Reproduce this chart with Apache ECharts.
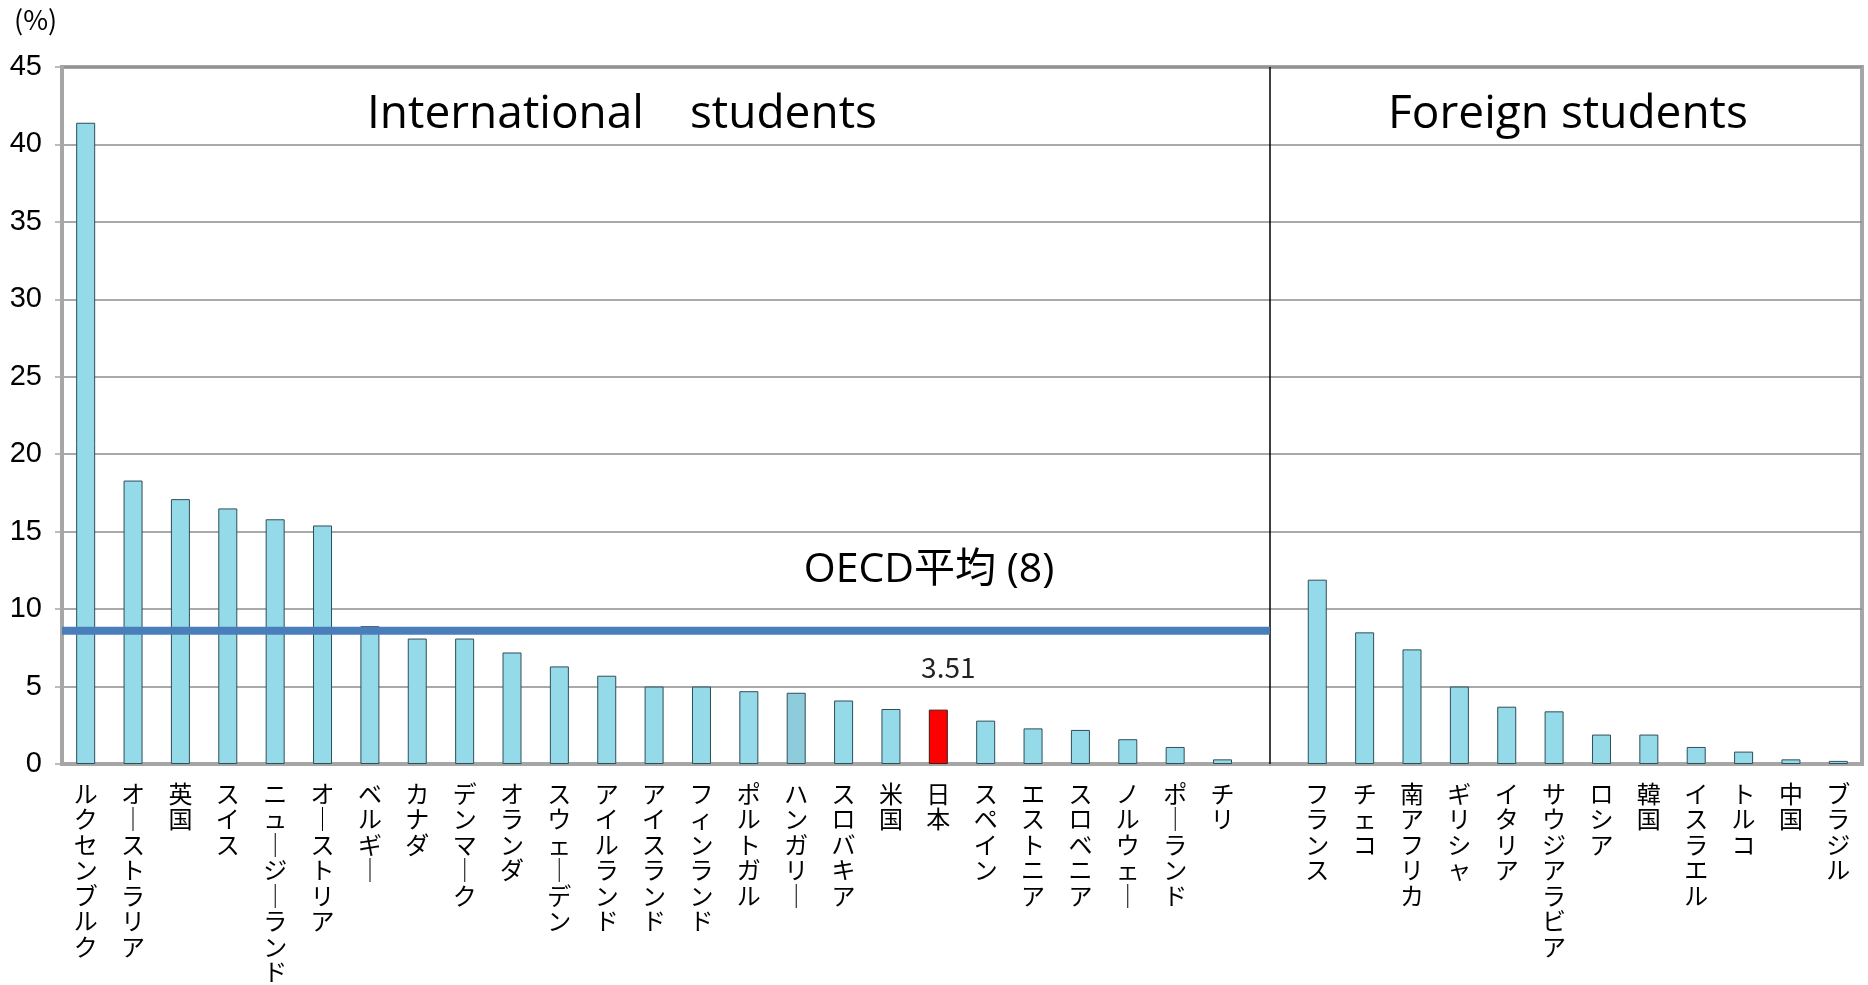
<!DOCTYPE html>
<html>
<head>
<meta charset="utf-8">
<script src="https://cdn.jsdelivr.net/npm/echarts@6/dist/echarts.min.js"></script>
<style>
  html, body { margin: 0; padding: 0; background: #fff; }
  #chart { width: 1868px; height: 985px; }
</style>
</head>
<body>
<div id="chart"></div>
<script>
// 留学生比率 (%) — International students / Foreign students
var intlNames = ['ルクセンブルク', 'オーストラリア', '英国', 'スイス', 'ニュージーランド', 'オーストリア',
  'ベルギー', 'カナダ', 'デンマーク', 'オランダ', 'スウェーデン', 'アイルランド', 'アイスランド',
  'フィンランド', 'ポルトガル', 'ハンガリー', 'スロバキア', '米国', '日本', 'スペイン', 'エストニア',
  'スロベニア', 'ノルウェー', 'ポーランド', 'チリ'];
var intlValues = [41.4, 18.3, 17.1, 16.5, 15.8, 15.4, 8.9, 8.1, 8.1, 7.2, 6.3, 5.7, 5.0,
  5.0, 4.7, 4.6, 4.1, 3.55, 3.51, 2.8, 2.3, 2.2, 1.6, 1.1, 0.3];

var foreignNames = ['フランス', 'チェコ', '南アフリカ', 'ギリシャ', 'イタリア', 'サウジアラビア',
  'ロシア', '韓国', 'イスラエル', 'トルコ', '中国', 'ブラジル'];
var foreignValues = [11.9, 8.5, 7.4, 5.0, 3.7, 3.4, 1.9, 1.9, 1.1, 0.8, 0.3, 0.2];

var oecdAvg = 8.6;   // 太線の位置 (ラベルは 8)
var yTicks = [0, 45, 5];  // min, max, interval

// 空のカテゴリを1つ挟んで2グループに分ける
var categories = intlNames.concat([''], foreignNames);
var values = intlValues.concat([null], foreignValues);
var splitPos = intlNames.length + 0.5;

var barData = categories.map(function (name, i) {
  var v = values[i];
  if (name === '日本') {
    return { value: v, itemStyle: { color: '#FF0000', borderColor: '#3a1a1a' },
      label: { show: true, position: 'top', distance: 28, offset: [10, 0], formatter: '{c}',
        fontSize: 28, color: '#222', fontFamily: 'Noto Sans CJK JP' } };
  }
  if (name === 'ハンガリー') {
    return { value: v, itemStyle: { color: '#8ECBDB' } };
  }
  return v;
});

var chart = echarts.init(document.getElementById('chart'));
var option = {
  animation: false,
  backgroundColor: '#fff',
  grid: {
    left: 62, right: 6, top: 67, bottom: 218,
    show: true, borderColor: '#A6A6A6', borderWidth: 4, backgroundColor: 'transparent'
  },
  xAxis: [
    {
      type: 'category',
      data: categories,
      axisLine: { show: true, lineStyle: { color: '#A6A6A6', width: 4 } },
      axisTick: { show: false },
      axisLabel: {
        interval: 0,
        margin: 17,
        verticalAlign: 'top',
        fontSize: 24,
        lineHeight: 25.5,
        color: '#000',
        fontFamily: 'Noto Sans CJK JP',
        formatter: function (name) {
          return name.split('').map(function (c) { return c === 'ー' ? '｜' : c; }).join('\n');
        }
      }
    },
    { type: 'value', min: 0, max: categories.length, show: false }
  ],
  yAxis: {
    type: 'value',
    min: yTicks[0], max: yTicks[1], interval: yTicks[2],
    axisLine: { show: true, lineStyle: { color: '#A6A6A6', width: 4 } },
    axisTick: { show: true, length: 7, lineStyle: { color: '#A6A6A6', width: 1.5 } },
    axisLabel: { fontSize: 29, color: '#000', margin: 20, fontFamily: 'Liberation Sans' },
    splitLine: { show: true, lineStyle: { color: '#8C8C8C', width: 1.5 } }
  },
  series: [
    {
      type: 'bar',
      data: barData,
      barWidth: 19,
      itemStyle: { color: '#94DAE8', borderColor: '#2E4E5A', borderWidth: 1 }
    },
    {
      type: 'line',
      xAxisIndex: 1,
      data: [[0, oecdAvg], [splitPos, oecdAvg]],
      symbol: 'none',
      lineStyle: { color: '#4A7EBB', width: 8 },
      z: 5,
      markLine: {
        silent: true,
        symbol: 'none',
        label: { show: false },
        lineStyle: { color: '#000', width: 1.5, type: 'solid' },
        data: [{ xAxis: splitPos }]
      }
    }
  ],
  graphic: [
    { type: 'text', left: 14, top: 6,
      style: { text: '(%)', fontSize: 27, fill: '#000', fontFamily: 'Noto Sans CJK JP' } },
    { type: 'text', x: 622, y: 115,
      style: { text: 'International　students', fontSize: 46, fill: '#000', fontFamily: 'Open Sans',
        align: 'center', verticalAlign: 'middle' } },
    { type: 'text', x: 1568, y: 115,
      style: { text: 'Foreign students', fontSize: 46, fill: '#000', fontFamily: 'Open Sans',
        align: 'center', verticalAlign: 'middle' } },
    { type: 'text', x: 929, y: 570,
      style: { text: 'OECD平均 (8)', fontSize: 41, fill: '#000', fontFamily: 'Open Sans, Noto Sans CJK JP',
        align: 'center', verticalAlign: 'middle' } }
  ]
};
chart.setOption(option);
</script>
</body>
</html>
